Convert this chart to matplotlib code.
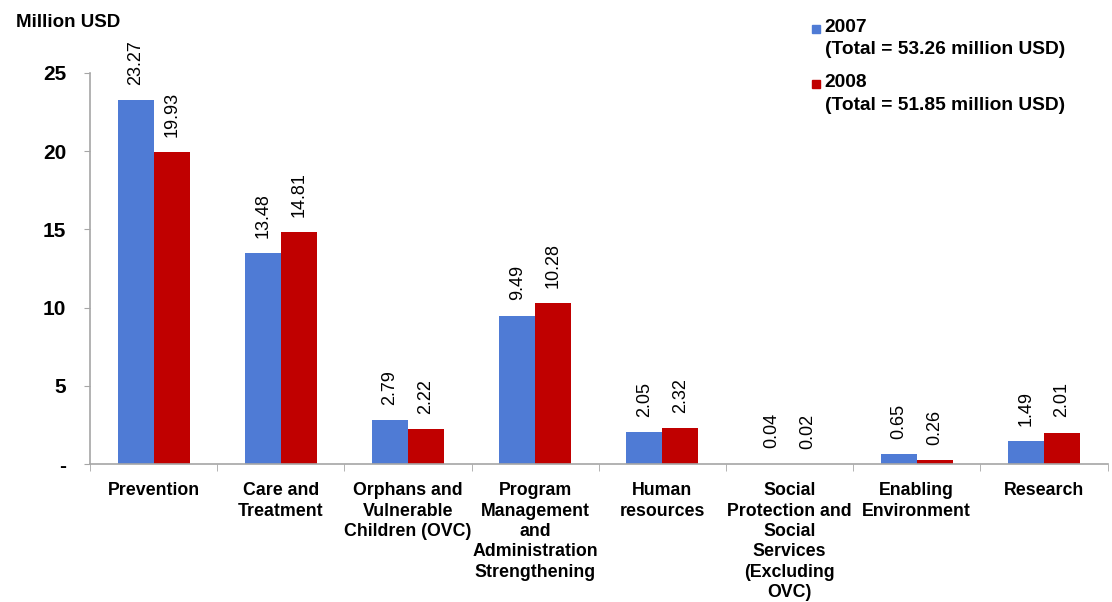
import matplotlib.pyplot as plt
import numpy as np
from matplotlib.patches import Rectangle

plt.rcParams['font.family'] = ['Liberation Sans', 'DejaVu Sans']

categories = [
    "Prevention",
    "Care and\nTreatment",
    "Orphans and\nVulnerable\nChildren (OVC)",
    "Program\nManagement\nand\nAdministration\nStrengthening",
    "Human\nresources",
    "Social\nProtection and\nSocial\nServices\n(Excluding\nOVC)",
    "Enabling\nEnvironment",
    "Research",
]
years = ["2007", "2008"]
totals = [53.26, 51.85]
spend_2007 = [23.27, 13.48, 2.79, 9.49, 2.05, 0.04, 0.65, 1.49]
spend_2008 = [19.93, 14.81, 2.22, 10.28, 2.32, 0.02, 0.26, 2.01]
y_ticks = [0, 5, 10, 15, 20, 25]
y_labels = ["-", "5", "10", "15", "20", "25"]

colors = ["#4F7BD5", "#C00000"]
axis_grey = "#A6A6A6"

fig = plt.figure(figsize=(11.12, 6.02), dpi=100)
ax = fig.add_axes([0.081, 0.229, 0.915, 0.650])

x = np.arange(len(categories))
w = 0.283
for i, (vals, col) in enumerate([(spend_2007, colors[0]), (spend_2008, colors[1])]):
    pos = x + (i - 0.5) * w
    ax.bar(pos, vals, width=w, color=col, zorder=2)
    for px, v in zip(pos, vals):
        ax.annotate(f"{v:.2f}", (px, v), xytext=(0, 11), textcoords="offset points",
                    rotation=90, ha="center", va="bottom", fontsize=13,
                    annotation_clip=False)

ax.set_xlim(-0.5, len(categories) - 0.5)
ax.set_ylim(0, 25)

for side in ["top", "right"]:
    ax.spines[side].set_visible(False)
for side in ["left", "bottom"]:
    ax.spines[side].set_color(axis_grey)
    ax.spines[side].set_linewidth(1.2)

ax.set_yticks(y_ticks)
ax.set_yticklabels(y_labels, fontsize=15, fontweight="bold")
ax.tick_params(axis="y", length=4, color=axis_grey, pad=13)

ax.set_xticks(x)
ax.set_xticklabels(categories, fontsize=12.8, fontweight="bold", linespacing=1.26, va="top")
ax.tick_params(axis="x", which="major", length=0, pad=13)
ax.set_xticks(np.arange(len(categories) + 1) - 0.5, minor=True)
ax.tick_params(axis="x", which="minor", length=5, color=axis_grey)

fig.text(0.014, 0.962, "Million USD", fontsize=13.5, fontweight="bold", va="center")

# legend: small square beside the year, total on the line below
leg_y = [0.952, 0.860]
for yr, tot, col, ly in zip(years, totals, colors, leg_y):
    fig.patches.append(Rectangle((0.7305, ly - 0.0065), 0.0072, 0.0133,
                                 transform=fig.transFigure, color=col))
    fig.text(0.7415, ly + 0.017, f"{yr}\n(Total = {tot:.2f} million USD)", fontsize=13.8,
             fontweight="bold", va="top", linespacing=1.42)

fig.savefig("out.png", dpi=100)
